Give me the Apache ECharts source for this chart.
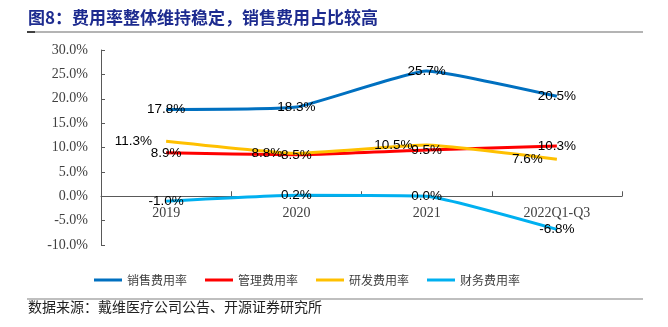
<!DOCTYPE html>
<html><head><meta charset="utf-8">
<script src="https://cdn.jsdelivr.net/npm/echarts@6/dist/echarts.min.js"></script>
<style>html,body{margin:0;padding:0;background:#fff}#c{width:668px;height:327px}</style>
</head><body><div id="c"></div>
<script>
var categories = ['2019', '2020', '2021', '2022Q1-Q3'];
var sales = [17.8, 18.3, 25.7, 20.5];
var admin = [8.9, 8.5, 9.5, 10.3];
var rnd = [11.3, 8.8, 10.5, 7.6];
var finance = [-1.0, 0.2, 0.0, -6.8];
var seriesNames = ['销售费用率', '管理费用率', '研发费用率', '财务费用率'];
var colors = ['#0070C0', '#FF0000', '#FFC000', '#00B0F0'];
var yMin = -10, yMax = 30, yStep = 5;

var gridTop = 50, gridBottom = 82, gridH = 327 - gridTop - gridBottom;
var zeroOffset = -gridH * (0 - yMin) / (yMax - yMin);

var chart = echarts.init(document.getElementById('c'), null, {renderer: 'canvas'});
function mk(name, data, color, labelPos) {
  return {
    name: name, type: 'line', data: data, smooth: 0.12,
    symbol: 'circle', symbolSize: 0.1,
    lineStyle: {color: color, width: 3},
    itemStyle: {color: color},
    label: {
      show: true, position: labelPos, distance: labelPos === 'left' ? 14 : 0,
      formatter: function (p) { return p.value.toFixed(1) + '%'; },
      fontFamily: 'Liberation Sans', fontSize: 13.5, color: '#000'
    },
    emphasis: {disabled: true}, z: 3
  };
}
chart.setOption({
  animation: false,
  color: colors,
  textStyle: {fontFamily: 'Liberation Serif'},
  grid: {left: 101, right: 46, top: gridTop, bottom: gridBottom, containLabel: false},
  xAxis: {
    type: 'category', data: categories, boundaryGap: true, offset: zeroOffset,
    axisLine: {onZero: false, lineStyle: {color: '#595959', width: 1}},
    axisTick: {show: true, inside: true, length: 5, lineStyle: {color: '#595959'}},
    axisLabel: {fontFamily: 'Liberation Serif', fontSize: 14, color: '#404040', margin: 10}
  },
  yAxis: {
    type: 'value', min: yMin, max: yMax, interval: yStep,
    splitLine: {show: false},
    axisLine: {show: true, lineStyle: {color: '#595959', width: 1}},
    axisTick: {show: true, inside: true, length: 4, lineStyle: {color: '#595959'}},
    axisLabel: {fontFamily: 'Liberation Serif', fontSize: 14, color: '#404040', margin: 13,
      formatter: function (v) { return v.toFixed(1) + '%'; }}
  },
  legend: {
    data: seriesNames, left: 89, top: 269, icon: 'rect', itemWidth: 28, itemHeight: 3,
    itemGap: 18, textStyle: {fontFamily: 'Noto Sans CJK SC', fontSize: 12, color: '#404040'}
  },
  series: [
    mk(seriesNames[0], sales, colors[0], 'inside'),
    mk(seriesNames[1], admin, colors[1], 'inside'),
    mk(seriesNames[2], rnd, colors[2], 'left'),
    mk(seriesNames[3], finance, colors[3], 'inside')
  ],
  graphic: [
    {type: 'text', left: 28, top: 9, style: {text: '图8：费用率整体维持稳定，销售费用占比较高',
      font: 'bold 17px "Noto Sans CJK SC"', fill: '#1d2b8f'}},
    {type: 'rect', shape: {x: 27, y: 31, width: 616, height: 2}, style: {fill: '#b4b4b4'}},
    {type: 'rect', shape: {x: 27, y: 31, width: 8, height: 2}, style: {fill: '#404040'}},
    {type: 'rect', shape: {x: 27, y: 298.5, width: 616, height: 1}, style: {fill: '#808080'}},
    {type: 'text', left: 28, top: 300, style: {text: '数据来源：戴维医疗公司公告、开源证券研究所',
      font: '14px "Noto Sans CJK SC"', fill: '#222'}}
  ]
});
</script></body></html>
